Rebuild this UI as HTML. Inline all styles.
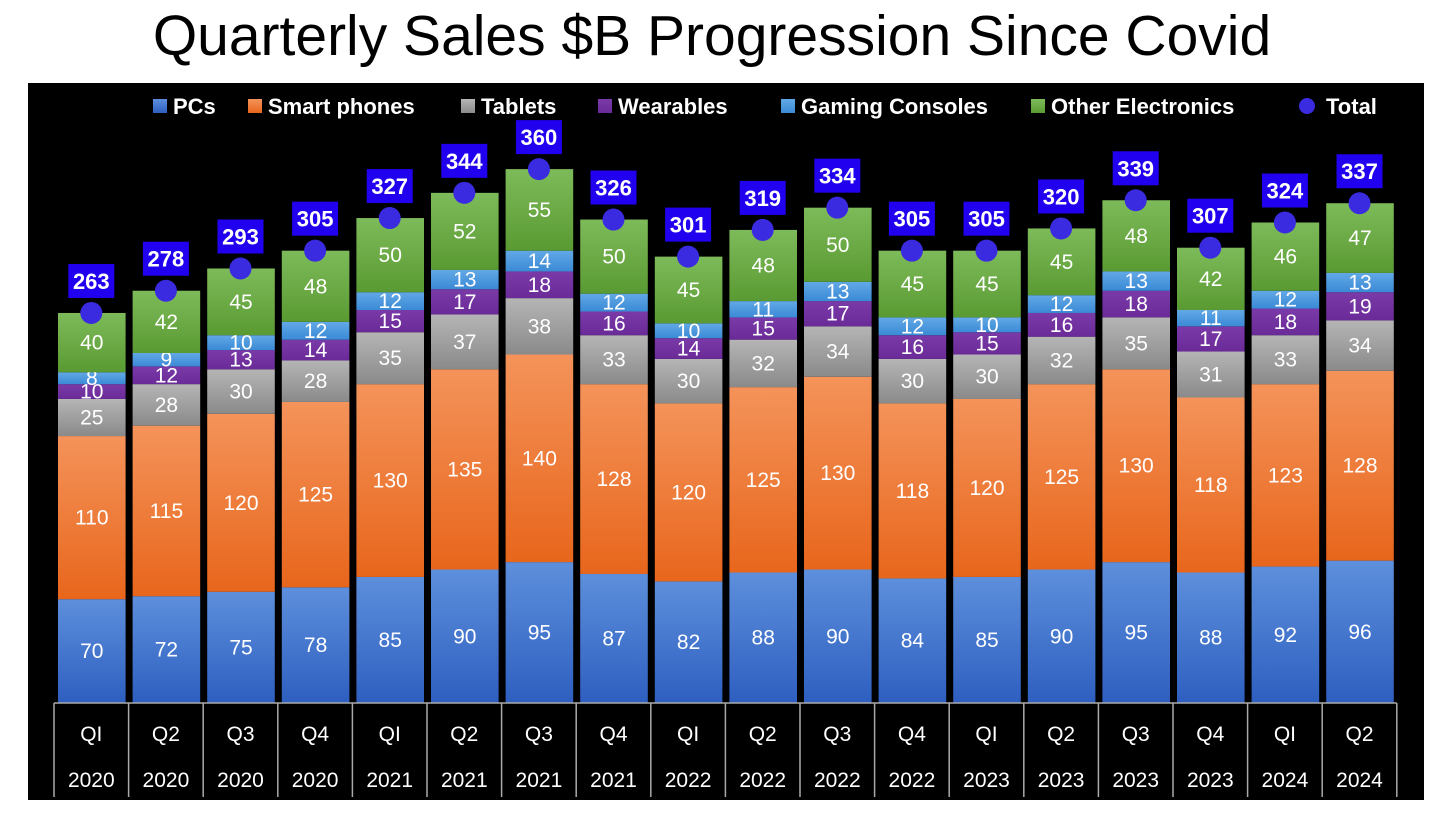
<!DOCTYPE html>
<html><head><meta charset="utf-8"><style>
body{margin:0;width:1456px;height:819px;background:#fff;overflow:hidden;font-family:"Liberation Sans",sans-serif}
#title{position:absolute;left:-16px;top:3px;width:1456px;text-align:center;font-size:57px;color:#000}
svg{position:absolute;left:0;top:0}
</style></head><body>
<div id="title">Quarterly Sales $B Progression Since Covid</div>
<svg id="chart" width="1456" height="819"></svg>
<script>
const quarters=["QI","Q2","Q3","Q4","QI","Q2","Q3","Q4","QI","Q2","Q3","Q4","QI","Q2","Q3","Q4","QI","Q2"];
const years=["2020","2020","2020","2020","2021","2021","2021","2021","2022","2022","2022","2022","2023","2023","2023","2023","2024","2024"];
const pcs=[70,72,75,78,85,90,95,87,82,88,90,84,85,90,95,88,92,96];
const phones=[110,115,120,125,130,135,140,128,120,125,130,118,120,125,130,118,123,128];
const tablets=[25,28,30,28,35,37,38,33,30,32,34,30,30,32,35,31,33,34];
const wearables=[10,12,13,14,15,17,18,16,14,15,17,16,15,16,18,17,18,19];
const consoles=[8,9,10,12,12,13,14,12,10,11,13,12,10,12,13,11,12,13];
const other=[40,42,45,48,50,52,55,50,45,48,50,45,45,45,48,42,46,47];
const seriesNames=["PCs","Smart phones","Tablets","Wearables","Gaming Consoles","Other Electronics"];
const series=[pcs,phones,tablets,wearables,consoles,other];
const NS="http://www.w3.org/2000/svg";
const svg=document.getElementById('chart');
function mk(t,a,p){const e=document.createElementNS(NS,t);for(const k in a)e.setAttribute(k,a[k]);(p||svg).appendChild(e);return e;}
const defs=mk('defs',{});
const grads=[["#5d8fdc","#2e5fc0"],["#f4935a","#e8661c"],["#b5b5b5","#8a8a8a"],["#7a3aa8","#6a2a98"],["#62a8e6","#3a8ad6"],["#7dbb5a","#5a9a32"]];
grads.forEach((g,i)=>{const lg=mk('linearGradient',{id:'g'+i,x1:0,y1:0,x2:0,y2:1},defs);mk('stop',{offset:'0','stop-color':g[0]},lg);mk('stop',{offset:'1','stop-color':g[1]},lg);});
const bg=mk('rect',{x:28,y:83,width:1396,height:717,fill:'#000'});


const x0=54,band=74.6,base=703,k=1.483;
const xs=i=>x0+band*i;
const ys=v=>base-v*k;
const legX=[153,248,461,598,781,1031,1300];
seriesNames.forEach((n,i)=>{
 const g=mk('g',{});
 
 
 mk('rect',{x:legX[i],y:99,width:14,height:14,fill:'url(#g'+i+')'},g);
 const t=mk('text',{x:legX[i]+20,y:114,fill:'#fff','font-size':22,'font-weight':'bold'},g);t.textContent=n;
});
{const g=mk('g',{});
 
 
 mk('circle',{cx:legX[6]+7,cy:106,r:8,fill:'#3a2ae0'},g);
 const t=mk('text',{x:legX[6]+26,y:114,fill:'#fff','font-size':22,'font-weight':'bold'},g);t.textContent='Total';}
quarters.forEach((q,i)=>{
 let cum=0;const bx=xs(i)+4,bw=band-7;
 series.forEach((s,j)=>{
  const v=s[i];const y1=ys(cum+v),y0=ys(cum);
  const r=mk('rect',{x:bx,y:y1,width:bw,height:y0-y1,fill:'url(#g'+j+')'});
  
  
  const t=mk('text',{x:bx+bw/2,y:(y1+y0)/2+7,fill:'#fff','font-size':21,'text-anchor':'middle'});
  t.textContent=v;
  cum+=v;
 });
 const cx=xs(i)+band/2,cy=ys(cum);
 const d=mk('circle',{cx:cx,cy:cy,r:11,fill:'#3a2ae0'});
 
 
 const lb=mk('rect',{x:cx-23,y:cy-49,width:46,height:34,fill:'#2000ee'});
 
 
 const t=mk('text',{x:cx,y:cy-24,fill:'#fff','font-size':22,'font-weight':'bold','text-anchor':'middle'});
 t.textContent=cum;
 mk('line',{x1:xs(i),y1:703,x2:xs(i),y2:797,stroke:'#aaa','stroke-width':1.5});
 const qt=mk('text',{x:cx,y:741,fill:'#fff','font-size':21,'text-anchor':'middle'});qt.textContent=q;
 
 
 const yt=mk('text',{x:cx,y:787,fill:'#fff','font-size':21,'text-anchor':'middle'});yt.textContent=years[i];
 
 
});
mk('line',{x1:xs(quarters.length),y1:703,x2:xs(quarters.length),y2:797,stroke:'#aaa','stroke-width':1.5});
mk('line',{x1:x0,y1:703,x2:xs(quarters.length),y2:703,stroke:'#aaa','stroke-width':1.5});
</script>
</body></html>
